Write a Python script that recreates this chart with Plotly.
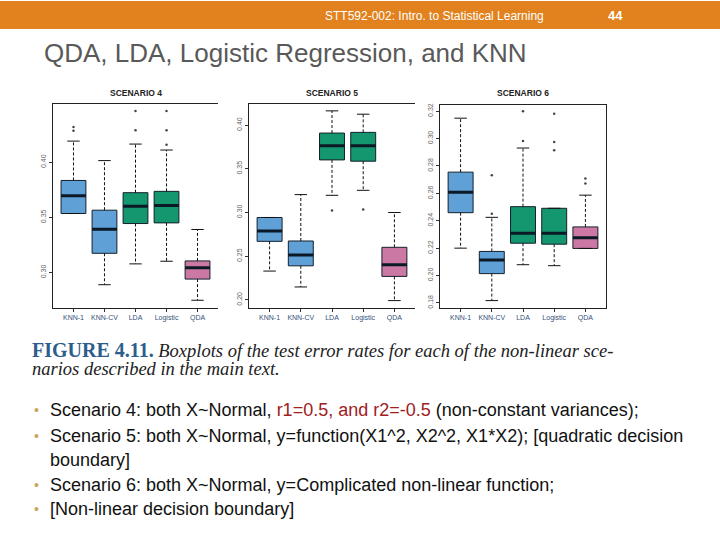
import plotly.graph_objects as go

# ---------------- data ----------------
methods = ["KNN-1", "KNN-CV", "LDA", "Logistic", "QDA"]

s4_lo = [0.3535, 0.2889, 0.3078, 0.3102, 0.2748]
s4_q1 = [0.3535, 0.3174, 0.3444, 0.3450, 0.2940]
s4_med = [0.3697, 0.3393, 0.3601, 0.3607, 0.3042]
s4_q3 = [0.3835, 0.3565, 0.3724, 0.3736, 0.3105]
s4_hi = [0.4192, 0.4015, 0.4165, 0.4111, 0.3390]
s4_out = [[0.4285, 0.4321], [], [0.4291, 0.4465], [0.4159, 0.4291, 0.4465], []]

s5_lo = [0.2330, 0.2148, 0.3197, 0.3254, 0.1992]
s5_q1 = [0.2670, 0.2390, 0.3602, 0.3587, 0.2269]
s5_med = [0.2788, 0.2515, 0.3765, 0.3765, 0.2402]
s5_q3 = [0.2943, 0.2674, 0.3909, 0.3917, 0.2602]
s5_hi = [0.2943, 0.3205, 0.4163, 0.4125, 0.3000]
s5_out = [[], [], [0.3023], [0.3034], []]

s6_lo = [0.2200, 0.1817, 0.2079, 0.2072, 0.2198]
s6_q1 = [0.2459, 0.2014, 0.2236, 0.2229, 0.2198]
s6_med = [0.2609, 0.2113, 0.2309, 0.2309, 0.2275]
s6_q3 = [0.2755, 0.2176, 0.2503, 0.2491, 0.2355]
s6_hi = [0.3149, 0.2425, 0.2931, 0.2491, 0.2587]
s6_out = [[], [0.2451, 0.2733], [0.2982, 0.3200], [0.2914, 0.2975, 0.3181], [0.2672, 0.2708]]

s4_ticks = [0.30, 0.35, 0.40]
s5_ticks = [0.20, 0.25, 0.30, 0.35, 0.40]
s6_ticks = [0.18, 0.20, 0.22, 0.24, 0.26, 0.28, 0.30, 0.32]

scenario_titles = ["SCENARIO 4", "SCENARIO 5", "SCENARIO 6"]

# ---------------- styles ----------------
W, H = 720, 540
box_colors = ["#5FA0D7", "#5FA0D7", "#14966E", "#14966E", "#CC78A5"]
edge = "#14202c"
median_col = "#0b1826"

panels = [
    dict(lo=s4_lo, q1=s4_q1, med=s4_med, q3=s4_q3, hi=s4_hi, out=s4_out,
         ticks=s4_ticks, yr=[0.2679, 0.4532], px=(53, 218), py=(103, 308), full=False),
    dict(lo=s5_lo, q1=s5_q1, med=s5_med, q3=s5_q3, hi=s5_hi, out=s5_out,
         ticks=s5_ticks, yr=[0.1909, 0.4246], px=(249, 415), py=(103, 308), full=False),
    dict(lo=s6_lo, q1=s6_q1, med=s6_med, q3=s6_q3, hi=s6_hi, out=s6_out,
         ticks=s6_ticks, yr=[0.1764, 0.3248], px=(440, 606), py=(104, 308), full=True),
]

fig = go.Figure()
layout_axes = {}
annotations = []
positions = list(range(1, len(methods) + 1))
bw = 0.8
cap = 0.2

for k, p in enumerate(panels):
    suffix = "" if k == 0 else str(k + 1)
    xa, ya = "x" + suffix, "y" + suffix
    for i, pos in enumerate(positions):
        # whiskers (dashed)
        fig.add_trace(go.Scatter(
            x=[pos, pos, None, pos, pos],
            y=[p["q3"][i], p["hi"][i], None, p["q1"][i], p["lo"][i]],
            mode="lines", line=dict(color="#111111", width=1, dash="3px,2px"),
            xaxis=xa, yaxis=ya, showlegend=False, hoverinfo="skip"))
        # caps
        fig.add_trace(go.Scatter(
            x=[pos - cap, pos + cap, None, pos - cap, pos + cap],
            y=[p["hi"][i], p["hi"][i], None, p["lo"][i], p["lo"][i]],
            mode="lines", line=dict(color="#111111", width=1),
            xaxis=xa, yaxis=ya, showlegend=False, hoverinfo="skip"))
        # box
        fig.add_trace(go.Box(
            x=[pos], q1=[p["q1"][i]], median=[p["med"][i]], q3=[p["q3"][i]],
            lowerfence=[p["q1"][i]], upperfence=[p["q3"][i]],
            width=bw, fillcolor=box_colors[i], line=dict(color=edge, width=1),
            boxpoints=False, whiskerwidth=0, xaxis=xa, yaxis=ya,
            showlegend=False, hoverinfo="skip"))
        # thick median
        fig.add_trace(go.Scatter(
            x=[pos - bw / 2, pos + bw / 2], y=[p["med"][i], p["med"][i]],
            mode="lines", line=dict(color=median_col, width=3),
            xaxis=xa, yaxis=ya, showlegend=False, hoverinfo="skip"))
        # outliers
        if p["out"][i]:
            fig.add_trace(go.Scatter(
                x=[pos] * len(p["out"][i]), y=p["out"][i], mode="markers",
                marker=dict(color="#444444", size=2.5, symbol="circle"),
                xaxis=xa, yaxis=ya, showlegend=False, hoverinfo="skip"))

    x0, x1 = p["px"]
    y0, y1 = p["py"]
    layout_axes["xaxis" + suffix] = dict(
        domain=[x0 / W, x1 / W], anchor=ya, range=[0.34, 5.66],
        tickvals=positions, ticktext=methods, ticks="outside", ticklen=3,
        tickcolor="#333", tickfont=dict(size=7, color="#33507a", family="Liberation Sans"),
        showline=True, linecolor="#222", linewidth=1, mirror=True,
        showgrid=False, zeroline=False, fixedrange=True)
    layout_axes["yaxis" + suffix] = dict(
        domain=[1 - y1 / H, 1 - y0 / H], anchor=xa, range=p["yr"],
        tickvals=p["ticks"], ticktext=["%.2f" % t for t in p["ticks"]],
        tickangle=-90, ticks="outside", ticklen=3, tickcolor="#333",
        tickfont=dict(size=7, color="#666", family="Liberation Sans"),
        showline=True, linecolor="#222", linewidth=1, mirror=p["full"],
        showgrid=False, zeroline=False, fixedrange=True)
    annotations.append(dict(
        x=(x0 + x1) / 2 / W, y=1 - 92 / H, xref="paper", yref="paper",
        text="<b>" + scenario_titles[k] + "</b>", showarrow=False,
        font=dict(size=8.5, color="#222", family="Liberation Sans"),
        xanchor="center", yanchor="middle"))

# ---------------- slide text ----------------
annotations += [
    dict(x=323 / W, y=1 - 15 / H, text="STT592-002: Intro. to Statistical Learning",
         font=dict(size=12, color="white", family="Liberation Sans Narrow, Liberation Sans"),
         xanchor="left", yanchor="middle"),
    dict(x=606 / W, y=1 - 15 / H, text="<b>44</b>",
         font=dict(size=13, color="white", family="Liberation Sans"),
         xanchor="left", yanchor="middle"),
    dict(x=42 / W, y=1 - 52 / H, text="QDA, LDA, Logistic Regression, and KNN",
         font=dict(size=26, color="#595959", family="Liberation Sans"),
         xanchor="left", yanchor="middle"),
    dict(x=30 / W, y=1 - 350 / H,
         text="<b><span style='color:#2d5d8a;font-size:20px'>FIGURE 4.11.</span></b> "
              "<i>Boxplots of the test error rates for each of the non-linear sce-</i>",
         font=dict(size=18.5, color="#222", family="Liberation Serif"),
         xanchor="left", yanchor="middle"),
    dict(x=30 / W, y=1 - 369 / H, text="<i>narios described in the main text.</i>",
         font=dict(size=18.5, color="#222", family="Liberation Serif"),
         xanchor="left", yanchor="middle"),
]

bullet_lines = [
    (411, "Scenario 4: both X~Normal, <span style='color:#A0201E'>r1=0.5, and r2=-0.5</span> (non-constant variances);", True),
    (437, "Scenario 5: both X~Normal, y=function(X1^2, X2^2, X1*X2); [quadratic decision", True),
    (461, "boundary]", False),
    (486, "Scenario 6: both X~Normal, y=Complicated non-linear function;", True),
    (510, "[Non-linear decision boundary]", True),
]
for yy, txt, has_bullet in bullet_lines:
    annotations.append(dict(x=48 / W, y=1 - yy / H, text=txt,
                            font=dict(size=18, color="#111", family="Liberation Sans"),
                            xanchor="left", yanchor="middle"))
    if has_bullet:
        annotations.append(dict(x=32 / W, y=1 - yy / H, text="•",
                                font=dict(size=14, color="#C9A55F", family="Liberation Sans"),
                                xanchor="left", yanchor="middle"))

for a in annotations:
    a.setdefault("xref", "paper")
    a.setdefault("yref", "paper")
    a["showarrow"] = False

fig.update_layout(
    width=W, height=H, autosize=False,
    margin=dict(l=0, r=0, t=0, b=0),
    paper_bgcolor="white", plot_bgcolor="white",
    showlegend=False, annotations=annotations,
    shapes=[dict(type="rect", xref="paper", yref="paper", x0=0, x1=1,
                 y0=1 - 28 / H, y1=1, fillcolor="#E1821E", line=dict(width=0),
                 layer="below")],
    **layout_axes)

fig.write_html("out.html", config={"displayModeBar": False},
               post_script="document.body.style.margin='0';")
